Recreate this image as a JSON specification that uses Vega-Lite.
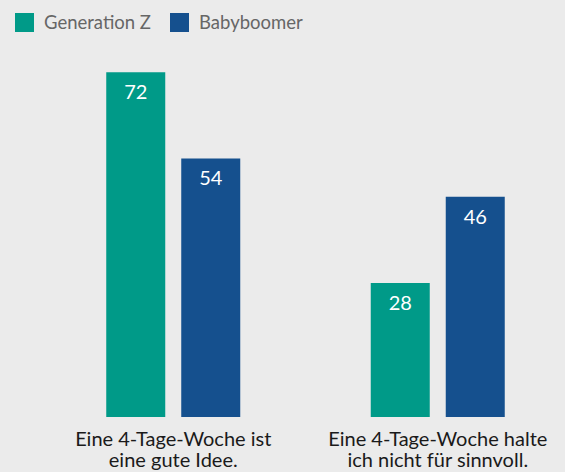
{
  "$schema": "https://vega.github.io/schema/vega-lite/v6.json",
  "autosize": "none",
  "width": 529,
  "height": 383,
  "padding": {"left": 41, "top": 34, "right": 0, "bottom": 55},
  "background": "#ebebeb",
  "config": {"view": {"stroke": null}, "font": "Lato"},
  "data": {"values": [
    {"aussage": "Eine 4-Tage-Woche ist|eine gute Idee.", "gruppe": "Generation Z", "wert": 72},
    {"aussage": "Eine 4-Tage-Woche ist|eine gute Idee.", "gruppe": "Babyboomer", "wert": 54},
    {"aussage": "Eine 4-Tage-Woche halte|ich nicht für sinnvoll.", "gruppe": "Generation Z", "wert": 28},
    {"aussage": "Eine 4-Tage-Woche halte|ich nicht für sinnvoll.", "gruppe": "Babyboomer", "wert": 46}
  ]},
  "encoding": {
    "x": {"field": "aussage", "type": "nominal", "sort": null,
      "scale": {"paddingInner": 0, "paddingOuter": 0},
      "axis": {"title": null, "domain": false, "ticks": false, "labelAngle": 0, "labelExpr": "split(datum.label, '|')",
        "labelFontSize": 20, "labelColor": "#1a1a1a", "labelPadding": 12, "labelLineHeight": 21, "labelLimit": 300}},
    "xOffset": {"field": "gruppe", "type": "nominal", "sort": ["Generation Z", "Babyboomer"],
      "scale": {"paddingInner": 0.2133, "paddingOuter": 0.87}},
    "y": {"field": "wert", "type": "quantitative", "scale": {"domain": [0, 80]}, "axis": null}
  },
  "layer": [
    {"mark": {"type": "bar"},
     "encoding": {"color": {"field": "gruppe", "type": "nominal", "sort": ["Generation Z", "Babyboomer"],
        "scale": {"domain": ["Generation Z", "Babyboomer"], "range": ["#009a88", "#15508e"]},
        "legend": {"title": null, "orient": "none", "direction": "horizontal", "legendX": -26, "legendY": -21,
          "symbolType": "square", "symbolSize": 361, "symbolStrokeWidth": 0, "labelFontSize": 18.5, "labelColor": "#666666",
          "columnPadding": 18, "labelOffset": 10, "padding": 0}}}},
    {"mark": {"type": "text", "color": "white", "fontSize": 20, "baseline": "middle", "dy": 21},
     "encoding": {"text": {"field": "wert", "type": "quantitative"}}}
  ]
}
